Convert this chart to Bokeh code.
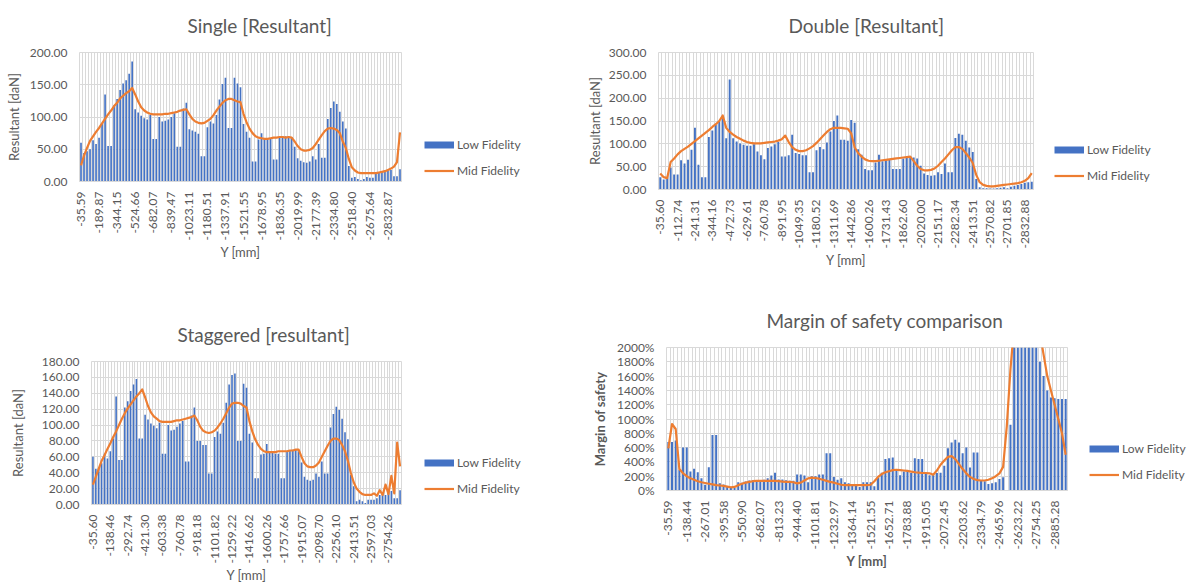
import math
from bokeh.plotting import figure
from bokeh.models import (ColumnDataSource, FixedTicker, Legend, LegendItem, Range1d,
                          PrintfTickFormatter)
from bokeh.layouts import row, column
from bokeh.embed import file_html
from bokeh.resources import INLINE

FONT = "Lato"
TEXT = "#595959"
BLUE = "#4472C4"
ORANGE = "#ED7D31"
GRID = "#D9D9D9"

# ---------------- Single [Resultant] ----------------
single_labels = ["-35.59", "-189.87", "-344.15", "-524.66", "-682.07", "-839.47", "-1023.11",
                 "-1180.51", "-1337.91", "-1521.55", "-1678.95", "-1836.35", "-2019.99",
                 "-2177.39", "-2334.80", "-2518.40", "-2675.64", "-2832.87"]
single_low = [60, 44, 47, 50, 64, 58, 68, 90, 135, 55,
              55, 118, 128, 142, 152, 157, 167, 186, 112, 107,
              102, 98, 96, 103, 66, 66, 100, 93, 94, 96,
              100, 106, 54, 54, 113, 122, 81, 79, 77, 74,
              39, 39, 84, 93, 90, 103, 127, 151, 161, 83,
              83, 161, 152, 146, 89, 77, 68, 31, 31, 65,
              75, 66, 65, 66, 34, 34, 69, 70, 70, 70,
              69, 54, 36, 32, 30, 29, 31, 39, 34, 58,
              37, 37, 97, 114, 124, 120, 108, 93, 82, 24,
              6, 7, 4, 2, 4, 7, 6, 6, 13, 13,
              15, 17, 17, 18, 8, 8, 19]
single_mid = [25, 40, 52, 63, 70, 77, 83, 90, 97, 104,
              110, 117, 122, 129, 133, 137, 140, 145, 135, 124,
              115, 110, 107, 105, 104, 104, 104, 104, 105, 105,
              106, 107, 108, 110, 111, 112, 104, 97, 93, 91,
              90, 91, 94, 97, 103, 110, 116, 122, 126, 128,
              128, 126, 124, 123, 105, 92, 82, 75, 70, 68,
              67, 66, 66, 67, 68, 68, 69, 69, 68, 69,
              68, 62, 55, 50, 48, 48, 49, 52, 58, 65,
              72, 78, 82, 83, 82, 80, 75, 62, 52, 35,
              22, 17, 14, 13, 13, 13, 13, 13, 13, 14,
              15, 16, 18, 20, 23, 30, 76]

# ---------------- Double [Resultant] ----------------
double_labels = ["-35.60", "-112.74", "-241.31", "-344.16", "-472.73", "-629.61", "-760.78",
                 "-891.95", "-1049.35", "-1180.52", "-1311.69", "-1442.86", "-1600.26",
                 "-1731.43", "-1862.60", "-2020.00", "-2151.17", "-2282.34", "-2413.51",
                 "-2570.82", "-2701.85", "-2832.88"]
double_low = [27, 22, 25, 48, 33, 33, 64, 57, 65, 87,
              135, 54, 27, 27, 115, 129, 141, 148, 155, 112,
              241, 112, 105, 101, 98, 96, 96, 99, 83, 75,
              66, 91, 94, 99, 104, 72, 72, 75, 120, 80,
              78, 75, 75, 38, 38, 86, 93, 88, 103, 127,
              150, 162, 109, 109, 107, 152, 146, 88, 76, 45,
              42, 42, 59, 76, 62, 64, 66, 45, 45, 45,
              68, 70, 72, 70, 68, 52, 35, 32, 30, 31,
              38, 34, 57, 38, 38, 113, 122, 120, 107, 92,
              82, 23, 5, 3, 3, 2, 2, 3, 4, 5,
              3, 6, 8, 10, 12, 15, 16, 17]
double_mid = [35, 27, 25, 60, 68, 77, 84, 89, 94, 100,
              106, 112, 118, 124, 130, 137, 143, 150, 162, 135,
              126, 120, 115, 111, 107, 104, 102, 101, 101, 101,
              102, 103, 104, 105, 107, 110, 118, 104, 93, 87,
              84, 84, 86, 90, 95, 102, 110, 118, 126, 132,
              135, 135, 135, 134, 133, 123, 92, 80, 72, 66,
              63, 62, 62, 63, 64, 65, 66, 67, 68, 69,
              70, 71, 72, 62, 52, 45, 42, 42, 43, 46,
              52, 60, 68, 77, 86, 93, 93, 89, 80, 70,
              58, 32, 16, 10, 8, 7, 7, 8, 9, 10,
              11, 12, 13, 14, 16, 19, 25, 36]

# ---------------- Staggered [resultant] ----------------
stag_labels = ["-35.60", "-138.46", "-292.74", "-421.30", "-603.38", "-760.78", "-918.18",
               "-1101.82", "-1259.22", "-1416.62", "-1600.26", "-1757.66", "-1915.07",
               "-2098.70", "-2256.10", "-2413.51", "-2597.03", "-2754.26"]
stag_low = [60, 45, 46, 52, 64, 58, 67, 83, 136, 56,
            56, 122, 130, 143, 151, 158, 83, 83, 113, 107,
            102, 99, 96, 103, 64, 64, 100, 93, 94, 98,
            102, 105, 54, 54, 112, 122, 80, 80, 75, 75,
            39, 39, 85, 92, 89, 103, 128, 151, 163, 165,
            80, 80, 152, 147, 89, 78, 33, 33, 63, 64,
            76, 66, 66, 64, 64, 33, 33, 67, 68, 69,
            69, 67, 53, 35, 31, 30, 31, 39, 35, 54,
            39, 39, 97, 114, 123, 119, 108, 91, 82, 37,
            23, 4, 6, 4, 2, 6, 6, 6, 8, 12,
            15, 12, 16, 17, 8, 8, 18]
stag_mid = [25, 35, 45, 55, 62, 70, 77, 85, 92, 100,
            108, 115, 121, 126, 131, 136, 140, 145, 135, 124,
            116, 111, 108, 105, 104, 104, 104, 104, 105, 106,
            106, 107, 108, 109, 110, 112, 106, 98, 93, 91,
            90, 91, 93, 97, 102, 108, 115, 122, 127, 128,
            128, 127, 124, 122, 105, 92, 82, 75, 70, 67,
            66, 66, 66, 66, 67, 67, 67, 67, 68, 68,
            69, 69, 60, 52, 48, 47, 47, 49, 53, 60,
            67, 74, 80, 83, 83, 81, 75, 67, 55, 40,
            28, 20, 16, 13, 12, 12, 12, 14, 11, 18,
            12, 25, 13, 36, 14, 78, 48]

# ---------------- Margin of safety comparison (%) ----------------
margin_labels = ["-35.59", "-138.44", "-267.01", "-395.58", "-550.90", "-682.07", "-813.23",
                 "-944.40", "-1101.81", "-1232.97", "-1364.14", "-1521.55", "-1652.71",
                 "-1783.88", "-1915.05", "-2072.45", "-2203.62", "-2334.79", "-2465.96",
                 "-2623.22", "-2754.25", "-2885.28"]
margin_low = [680, 680, 700, 290, 600, 600, 265, 305, 255, 170,
              80, 325, 775, 775, 100, 85, 55, 40, 40, 115,
              110, 125, 140, 145, 145, 145, 150, 170, 210, 250,
              155, 155, 145, 135, 135, 225, 225, 210, 115, 200,
              200, 225, 225, 520, 520, 190, 150, 170, 115, 100,
              65, 65, 50, 115, 115, 115, 60, 180, 250, 440,
              450, 460, 280, 215, 265, 280, 245, 450, 440, 440,
              235, 215, 220, 245, 250, 345, 590, 670, 710, 670,
              520, 600, 320, 530, 530, 140, 130, 90, 100, 115,
              160, 185, 0, 920, 2500, 2500, 2500, 2500, 2500, 2500,
              2500, 1800, 1600, 1400, 1300, 1290, 1280, 1280, 1280]
margin_mid = [590, 930, 860, 300, 240, 200, 170, 150, 130, 115,
              105, 95, 85, 75, 70, 65, 55, 45, 50, 75,
              95, 110, 120, 130, 135, 135, 135, 135, 135, 135,
              130, 125, 120, 120, 115, 100, 110, 140, 170, 180,
              175, 165, 150, 135, 120, 110, 95, 80, 75, 75,
              75, 75, 75, 75, 75, 80, 130, 190, 230, 255,
              270, 285, 290, 285, 280, 275, 265, 255, 250, 245,
              245, 240, 220, 280, 360, 420, 470, 480, 440, 370,
              300, 240, 190, 160, 145, 140, 140, 150, 170, 200,
              240, 330, 900, 1700, 2300, 2600, 2600, 2600, 2600, 2600,
              2500, 2200, 1900, 1600, 1400, 1200, 1000, 800, 500]


def build(title, low, mid, tick_labels, step, ymax, ystep, yfmt, ylabel,
          size, borders, title_offset, ylab_standoff, bold=False):
    n = len(low)
    w, h = size
    left, right, top, bottom = borders
    src = ColumnDataSource(data=dict(x=list(range(n)), low=low, mid=mid))
    p = figure(width=w, height=h, output_backend="svg", toolbar_location=None,
               x_range=Range1d(-0.5, n - 0.5), y_range=Range1d(0, ymax),
               min_border_left=left, min_border_right=right,
               min_border_top=top, min_border_bottom=bottom)
    p.frame_align = False
    p.outline_line_color = GRID
    p.title.text = title
    p.title.align = "left"
    p.title.vertical_align = "top"
    p.title.offset = title_offset
    p.title.standoff = 27
    p.title.text_font = FONT
    p.title.text_font_size = "19px"
    p.title.text_font_style = "normal"
    p.title.text_color = TEXT

    p.vbar(x="x", top="low", width=0.55, source=src, fill_color=BLUE, line_color=None)
    p.line(x="x", y="mid", source=src, line_color=ORANGE, line_width=2.2, line_join="round")

    p.xgrid.ticker = FixedTicker(ticks=[i - 0.5 for i in range(n + 1)])
    p.xgrid.grid_line_color = GRID
    p.ygrid.ticker = FixedTicker(ticks=list(range(0, ymax + 1, ystep)))
    p.ygrid.grid_line_color = GRID

    xt = [i * step for i in range(len(tick_labels))]
    xa = p.xaxis[0]
    xa.ticker = FixedTicker(ticks=xt)
    xa.major_label_overrides = {t: lab for t, lab in zip(xt, tick_labels)}
    xa.major_label_orientation = math.pi / 2
    xa.major_tick_line_color = None
    xa.minor_tick_line_color = None
    xa.axis_line_color = GRID
    xa.major_label_standoff = 4
    xa.major_label_text_font = FONT
    xa.major_label_text_font_size = "12px"
    xa.major_label_text_color = TEXT
    xa.axis_label = "Y [mm]"
    xa.axis_label_standoff = 0
    xa.axis_label_text_font = FONT
    xa.axis_label_text_font_size = "13px"
    xa.axis_label_text_color = TEXT
    xa.axis_label_text_font_style = "bold" if bold else "normal"

    ya = p.yaxis[0]
    ya.ticker = FixedTicker(ticks=list(range(0, ymax + 1, ystep)))
    ya.formatter = PrintfTickFormatter(format=yfmt)
    ya.major_tick_line_color = None
    ya.minor_tick_line_color = None
    ya.axis_line_color = None
    ya.major_label_standoff = 6
    ya.major_label_text_font = FONT
    ya.major_label_text_font_size = "12px"
    ya.major_label_text_color = TEXT
    ya.axis_label = ylabel
    ya.axis_label_standoff = ylab_standoff
    ya.axis_label_text_font = FONT
    ya.axis_label_text_font_size = "13px"
    ya.axis_label_text_color = TEXT
    ya.axis_label_text_font_style = "bold" if bold else "normal"
    return p, src


def legend_panel(src, width, height, loc):
    # a bare figure holding only the legend; its glyphs lie outside its ranges
    q = figure(width=width, height=height, output_backend="svg", toolbar_location=None,
               x_range=Range1d(-3, -2), y_range=Range1d(-3, -2),
               x_axis_location=None, y_axis_location=None,
               min_border_left=0, min_border_right=0, min_border_top=0, min_border_bottom=0)
    q.frame_align = False
    q.outline_line_color = None
    q.xgrid.visible = False
    q.ygrid.visible = False
    k_low = q.line(x="x", y="low", source=src, line_color=BLUE, line_width=7, line_cap="butt")
    k_mid = q.line(x="x", y="mid", source=src, line_color=ORANGE, line_width=2.2)
    leg = Legend(items=[LegendItem(label="Low Fidelity", renderers=[k_low]),
                        LegendItem(label="Mid Fidelity", renderers=[k_mid])],
                 location=loc)
    leg.border_line_color = None
    leg.background_fill_alpha = 0
    leg.padding = 0
    leg.margin = 0
    leg.spacing = 6
    leg.glyph_width = 30
    leg.glyph_height = 9
    leg.label_height = 20
    leg.label_standoff = 3
    leg.label_text_font = FONT
    leg.label_text_font_size = "12px"
    leg.label_text_color = TEXT
    q.add_layout(leg)
    return q


# figure sizes (w, h) and borders (left, right, top, bottom)
fa, sa = build("Single [Resultant]", single_low, single_mid, single_labels, 6, 200, 50, "%.2f",
               "Resultant [daN]", (407, 287), (79, 6, 51, 106), 108, 5)
fb, sb = build("Double [Resultant]", double_low, double_mid, double_labels, 5, 300, 50, "%.2f",
               "Resultant [daN]", (456, 287), (74, 6, 51, 98), 130, 3)
fc, sc = build("Staggered [resultant]", stag_low, stag_mid, stag_labels, 6, 180, 20, "%.2f",
               "Resultant [daN]", (407, 298), (91, 6, 74, 79), 86, 13)
fd, sd = build("Margin of safety comparison", margin_low, margin_mid, margin_labels, 5, 2000,
               200, "%d%%", "Margin of safety", (486, 298), (79, 6, 60, 95), 100, 6, bold=True)

la = legend_panel(sa, 176, 287, (17, 107))
lb = legend_panel(sb, 147, 287, (15, 102))
lc = legend_panel(sc, 180, 298, (17, 87))
ld = legend_panel(sd, 120, 298, (16, 101))

layout = column(row(fa, la, fb, lb), row(fc, lc, fd, ld))
open("out.html", "w").write(file_html(layout, INLINE))
